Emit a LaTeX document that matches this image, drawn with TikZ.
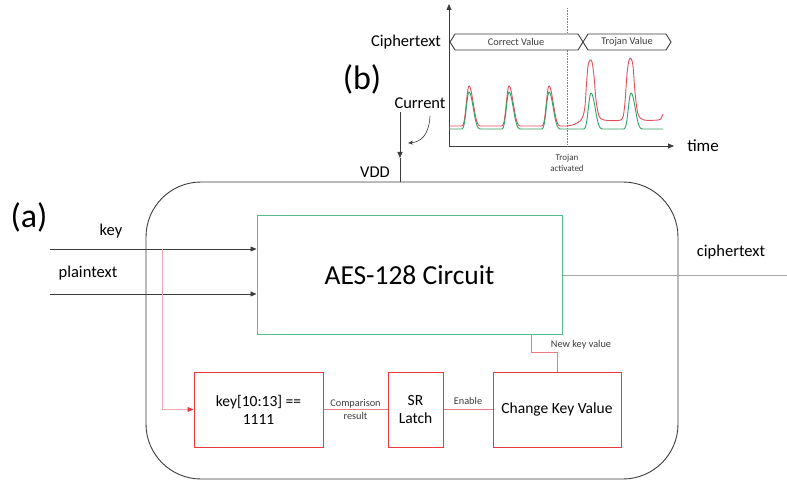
\documentclass[tikz,border=0pt]{standalone}
\usepackage{fontspec}
\setmainfont{Carlito}
\usetikzlibrary{arrows.meta}
\definecolor{boxgreen}{RGB}{85,188,140}
\definecolor{boxred}{RGB}{232,58,62}
\definecolor{linkred}{RGB}{236,125,130}
\definecolor{pinkline}{RGB}{242,170,178}
\definecolor{curvered}{RGB}{226,78,96}
\definecolor{curvegreen}{RGB}{48,160,100}
\definecolor{darkline}{RGB}{60,60,60}
\tikzset{
  blk/.style={draw=boxred, line width=1pt, minimum height=75pt, align=center, font=\fontsize{15.5}{18}\selectfont, inner sep=2pt},
  lbl/.style={font=\fontsize{16.5}{19}\selectfont, text=black},
  small/.style={font=\fontsize{10.3}{12.5}\selectfont, text=darkline, align=center},
  tiny/.style={font=\fontsize{9}{11}\selectfont, text=darkline, align=center},
  big/.style={font=\fontsize{34}{38}\selectfont},
  inarrow/.style={darkline, line width=0.7pt, -{Triangle[length=6pt,width=5pt]}},
  link/.style={linkred, line width=0.9pt},
  bus/.style={draw=darkline, line width=0.9pt, fill=white},
}
\begin{document}
\begin{tikzpicture}[x=1pt,y=-1pt,
  declare function={bp(\t,\c)=(cos(min(90,max(0,\c-\t)*11+max(0,\t-\c)*7)))^4;}]
\useasboundingbox (0,0) rectangle (787,481);

% outer chip
\draw[darkline, line width=0.9pt, rounded corners=55pt] (146,182) rectangle (678,479);

% AES box
\node[draw=boxgreen, line width=1pt, minimum width=305pt, minimum height=118pt,
      font=\fontsize{27.5}{30}\selectfont] (aes) at (409.5,275) {AES-128 Circuit};

% red blocks
\node[blk, minimum width=129pt] (kcmp) at (258.5,409.5) {key[10:13] ==\\1111};
\node[blk, minimum width=55pt] (sr) at (415.5,409.5) {SR\\Latch};
\node[blk, minimum width=128pt] (ckv) at (557,409.5) {Change Key Value};

% inputs
\coordinate (kin) at (50,249);
\coordinate (pin) at (50,294);
\coordinate (kbr) at (162,249);
\draw[inarrow] (kin) -- (kin -| aes.west);
\draw[inarrow] (pin) -- (pin -| aes.west);
\node[lbl] (keylbl) at (111,231) {key};
\node[lbl] (ptlbl) at (88,273) {plaintext};

% key branch
\draw[pinkline, line width=0.9pt, -{Triangle[length=6pt,width=5pt,color=boxred]}] (kbr) |- (kcmp.west);

% output
\coordinate (cout) at (787,275);
\draw[gray!70, line width=0.9pt] (aes.east) -- (cout);
\node[lbl] (ctlbl) at (731,252) {ciphertext};

% internal links
\draw[link] (kcmp.east) -- node[small] {Comparison\\result} (sr.west);
\draw[link] (sr.east) -- node[small, above=1pt] {Enable} (ckv.west);
\draw[link] (ckv.north) -- ++(0,-19) -- ++(-26,0) -- ++(0,-19);
\node[small] (nkv) at (581,345) {New key value};

% labels (a), (b)
\node[big] (alab) at (29,217) {(a)};
\node[big] (blab) at (362,79) {(b)};

% VDD and current
\node[lbl] (cur) at (420,103) {Current};
\node[lbl] (vdd) at (375,172) {VDD};
\coordinate (vtop) at (400,112);
\coordinate (vmid) at (400,158);
\coordinate (vbot) at (400,182);
\draw[darkline, line width=0.9pt, -{Triangle[length=6pt,width=5pt]}] (vtop) -- (vmid);
\draw[darkline, line width=0.9pt] (vmid) -- (vbot);
\coordinate (cs) at (430,116);
\coordinate (ce) at (408,143);
\draw[darkline, line width=0.6pt, -{Stealth[length=5pt,width=4pt]}] (cs) .. controls (429,135) and (421,142) .. (ce);

% plot axes
\draw[darkline, line width=0.8pt, -{Triangle[length=6pt,width=5pt]}] (449,146) -- (449,4);
\draw[darkline, line width=0.8pt, -{Triangle[length=6pt,width=5pt]}] (449,146) -- (674,146);
\node[lbl, font=\fontsize{17}{19}\selectfont] (timelbl) at (703,146) {time};
\draw[gray, densely dotted, line width=0.6pt] (567,8) -- (567,146);
\node[tiny] (trj) at (567,163) {Trojan\\activated};

% ciphertext bus
\node[lbl] (ctx) at (406,42) {Ciphertext};
\draw[bus] (450,42) -- (455,34) -- (578,34) -- (583,42) -- (578,50) -- (455,50) -- cycle;
\draw[bus] (583,42) -- (588,34) -- (666,34) -- (671,42) -- (666,50) -- (588,50) -- cycle;
\node[small] (cv) at (516,42) {Correct Value};
\node[small] (tv) at (627,42) {Trojan Value};

% curves
\draw[curvered, line width=0.9pt] plot[domain=449:567, samples=200]
  (\x, {126 - 40*(bp(\x,469)+bp(\x,509)+bp(\x,549))});
\draw[curvered, line width=0.9pt] plot[smooth, tension=0.5] coordinates {
  (567,126) (574,124.5) (580,121) (583,116) (585,106) (586.5,84) (588,66) (590,60)
  (592,62) (594,76) (596,100) (599,116) (604,120) (619,120.5) (623,117) (625,102)
  (627,74) (629,60) (631,58.5) (633,66) (635,92) (638,114) (644,120) (658,120)
  (661,118.5) (663,114)};
\draw[curvegreen, line width=0.9pt] plot[domain=449:663, samples=300]
  (\x, {129 - 37*(bp(\x,469)+bp(\x,509)+bp(\x,549)) - 36*(bp(\x,591)+bp(\x,631))});
\end{tikzpicture}
\end{document}
